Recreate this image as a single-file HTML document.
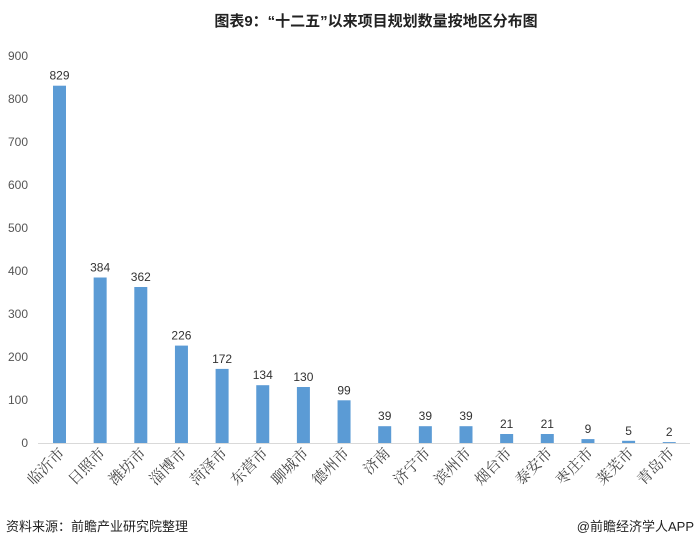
<!DOCTYPE html>
<html><head><meta charset="utf-8"><style>
body{margin:0;background:#fff;}
svg text{font-family:"Liberation Sans","Noto Sans CJK SC",sans-serif;}
.c text{font-family:"Liberation Serif","Noto Serif CJK SC",serif;}
</style></head><body>
<svg width="700" height="547" xmlns="http://www.w3.org/2000/svg">
<text x="376" y="26" text-anchor="middle" font-size="15" font-weight="bold" fill="#222">图表9：“十二五”以来项目规划数量按地区分布图</text>
<g font-size="12" fill="#555" text-anchor="end">
<text x="28" y="447">0</text><text x="28" y="404">100</text><text x="28" y="361">200</text><text x="28" y="318">300</text><text x="28" y="275">400</text><text x="28" y="232">500</text><text x="28" y="189">600</text><text x="28" y="146">700</text><text x="28" y="103">800</text><text x="28" y="60">900</text>
</g>
<line x1="38" y1="443.5" x2="690" y2="443.5" stroke="#d9d9d9" stroke-width="1"/>
<g fill="#5b9bd5">
<rect x="53" y="85.7" width="13" height="357.3"/>
<rect x="93.65" y="277.5" width="13" height="165.5"/>
<rect x="134.3" y="287" width="13" height="156"/>
<rect x="174.95" y="345.6" width="13" height="97.4"/>
<rect x="215.6" y="368.9" width="13" height="74.1"/>
<rect x="256.25" y="385.2" width="13" height="57.8"/>
<rect x="296.9" y="387" width="13" height="56"/>
<rect x="337.55" y="400.3" width="13" height="42.7"/>
<rect x="378.2" y="426.2" width="13" height="16.8"/>
<rect x="418.85" y="426.2" width="13" height="16.8"/>
<rect x="459.5" y="426.2" width="13" height="16.8"/>
<rect x="500.15" y="434" width="13" height="9"/>
<rect x="540.8" y="434" width="13" height="9"/>
<rect x="581.45" y="439.1" width="13" height="3.9"/>
<rect x="622.1" y="440.8" width="13" height="2.2"/>
<rect x="662.75" y="442.1" width="13" height="0.9"/>
</g>
<g font-size="12" fill="#333" text-anchor="middle">
<text x="59.5" y="79.7">829</text>
<text x="100.15" y="271.5">384</text>
<text x="140.8" y="281">362</text>
<text x="181.45" y="339.6">226</text>
<text x="222.1" y="362.9">172</text>
<text x="262.75" y="379.2">134</text>
<text x="303.4" y="381">130</text>
<text x="344.05" y="394.3">99</text>
<text x="384.7" y="420.2">39</text>
<text x="425.35" y="420.2">39</text>
<text x="466" y="420.2">39</text>
<text x="506.65" y="428">21</text>
<text x="547.3" y="428">21</text>
<text x="587.95" y="433.1">9</text>
<text x="628.6" y="434.8">5</text>
<text x="669.25" y="436.1">2</text>
</g>
<g class="c" font-size="15" fill="#444" text-anchor="end">
<text transform="translate(65.5,454) rotate(-45)">临沂市</text>
<text transform="translate(106.15,454) rotate(-45)">日照市</text>
<text transform="translate(146.8,454) rotate(-45)">潍坊市</text>
<text transform="translate(187.45,454) rotate(-45)">淄博市</text>
<text transform="translate(228.1,454) rotate(-45)">菏泽市</text>
<text transform="translate(268.75,454) rotate(-45)">东营市</text>
<text transform="translate(309.4,454) rotate(-45)">聊城市</text>
<text transform="translate(350.05,454) rotate(-45)">德州市</text>
<text transform="translate(390.7,454) rotate(-45)">济南</text>
<text transform="translate(431.35,454) rotate(-45)">济宁市</text>
<text transform="translate(472,454) rotate(-45)">滨州市</text>
<text transform="translate(512.65,454) rotate(-45)">烟台市</text>
<text transform="translate(553.3,454) rotate(-45)">泰安市</text>
<text transform="translate(593.95,454) rotate(-45)">枣庄市</text>
<text transform="translate(634.6,454) rotate(-45)">莱芜市</text>
<text transform="translate(675.25,454) rotate(-45)">青岛市</text>
</g>
<text x="6" y="531" font-size="13" fill="#222">资料来源：前瞻产业研究院整理</text>
<text x="694" y="531" font-size="13" fill="#222" text-anchor="end">@前瞻经济学人APP</text>
</svg>
</body></html>
